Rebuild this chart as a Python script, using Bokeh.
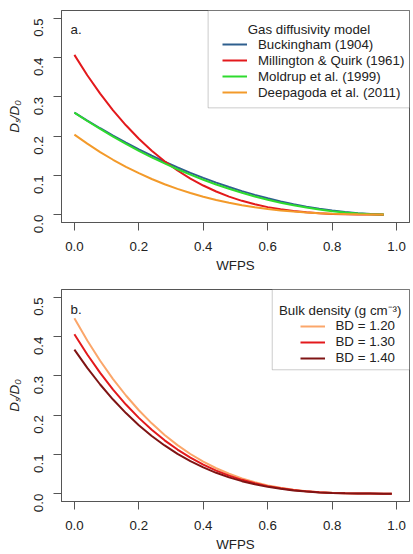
import math

from bokeh.embed import file_html
from bokeh.layouts import column
from bokeh.models import (BoxAnnotation, FixedTicker, Label, Legend,
                          LegendItem, Range1d)
from bokeh.plotting import figure
from bokeh.resources import INLINE

# ---------------------------------------------------------------- data
# Panel a: relative gas diffusivity for four models (porosity 0.51)
wfps_a = [0.00, 0.04, 0.08, 0.12, 0.16, 0.20, 0.24, 0.28, 0.32, 0.36,
          0.40, 0.44, 0.48, 0.52, 0.56, 0.60, 0.64, 0.68, 0.72, 0.76,
          0.80, 0.84, 0.88, 0.92, 0.96]
buckingham = [0.2600, 0.2396, 0.2201, 0.2013, 0.1835, 0.1664, 0.1502, 0.1348,
              0.1202, 0.1065, 0.0936, 0.0815, 0.0703, 0.0599, 0.0503, 0.0416,
              0.0337, 0.0266, 0.0204, 0.0150, 0.0104, 0.0067, 0.0037, 0.0017,
              0.0004]
millington_quirk = [0.4070, 0.3552, 0.3083, 0.2658, 0.2276, 0.1934, 0.1630,
                    0.1361, 0.1125, 0.0919, 0.0742, 0.0589, 0.0460, 0.0352,
                    0.0264, 0.0192, 0.0135, 0.0091, 0.0059, 0.0035, 0.0019,
                    0.0009, 0.0003, 0.0001, 0.0000]
moldrup = [0.2600, 0.2386, 0.2183, 0.1987, 0.1803, 0.1627, 0.1461, 0.1304,
           0.1157, 0.1018, 0.0889, 0.0769, 0.0659, 0.0557, 0.0463, 0.0380,
           0.0304, 0.0237, 0.0180, 0.0130, 0.0089, 0.0056, 0.0030, 0.0013,
           0.0003]
deepagoda = [0.2040, 0.1808, 0.1594, 0.1398, 0.1219, 0.1056, 0.0908, 0.0775,
             0.0656, 0.0550, 0.0456, 0.0374, 0.0302, 0.0240, 0.0188, 0.0144,
             0.0108, 0.0078, 0.0055, 0.0037, 0.0024, 0.0015, 0.0008, 0.0004,
             0.0002]
model_names = ["Buckingham (1904)", "Millington & Quirk (1961)",
               "Moldrup et al. (1999)", "Deepagoda et al. (2011)"]

# Panel b: Millington & Quirk at three bulk densities
wfps_b = [0.00, 0.04, 0.08, 0.12, 0.16, 0.20, 0.24, 0.28, 0.32, 0.36,
          0.40, 0.44, 0.48, 0.52, 0.56, 0.60, 0.64, 0.68, 0.72, 0.76,
          0.80, 0.84, 0.88, 0.92, 0.96, 0.985]
bd_120 = [0.4470, 0.3901, 0.3386, 0.2919, 0.2500, 0.2125, 0.1791, 0.1495,
          0.1236, 0.1010, 0.0814, 0.0647, 0.0506, 0.0387, 0.0290, 0.0211,
          0.0148, 0.0100, 0.0064, 0.0038, 0.0021, 0.0010, 0.0004, 0.0001,
          0.0000, 0.0000]
bd_130 = [0.4060, 0.3544, 0.3075, 0.2651, 0.2270, 0.1930, 0.1626, 0.1358,
          0.1123, 0.0917, 0.0740, 0.0587, 0.0459, 0.0352, 0.0263, 0.0192,
          0.0135, 0.0091, 0.0058, 0.0035, 0.0019, 0.0009, 0.0003, 0.0001,
          0.0000, 0.0000]
bd_140 = [0.3670, 0.3203, 0.2780, 0.2397, 0.2052, 0.1744, 0.1470, 0.1228,
          0.1015, 0.0829, 0.0669, 0.0531, 0.0415, 0.0318, 0.0238, 0.0173,
          0.0122, 0.0082, 0.0053, 0.0032, 0.0017, 0.0008, 0.0003, 0.0001,
          0.0000, 0.0000]
bd_names = ["BD = 1.20", "BD = 1.30", "BD = 1.40"]

x_ticks = [0.0, 0.2, 0.4, 0.6, 0.8, 1.0]
x_tick_labels = ["0.0", "0.2", "0.4", "0.6", "0.8", "1.0"]
y_ticks = [0.0, 0.1, 0.2, 0.3, 0.4, 0.5]
y_tick_labels = ["0.0", "0.1", "0.2", "0.3", "0.4", "0.5"]

# ---------------------------------------------------------------- style
FONT = "Liberation Sans"
FS = "13.3px"
FRAME = "#555555"
TEXT = "#222222"
colors_a = ["#2E5F8E", "#E3191C", "#2EDB2E", "#F39A2A"]
colors_b = ["#FBA66A", "#E3191C", "#7F1414"]


def make_panel(border_top, border_bottom):
    p = figure(width=413, height=277, output_backend="svg",
               toolbar_location=None,
               x_range=Range1d(-0.04, 1.04), y_range=Range1d(-0.02, 0.52),
               min_border_left=61, min_border_right=4,
               min_border_top=border_top, min_border_bottom=border_bottom,
               x_axis_label="WFPS", y_axis_label="D\u209b/D\u2080")
    p.background_fill_color = "white"
    p.border_fill_color = "white"
    p.outline_line_color = FRAME
    p.outline_line_width = 1
    p.grid.visible = False

    p.xaxis.ticker = FixedTicker(ticks=x_ticks)
    p.xaxis.major_label_overrides = dict(zip(x_ticks, x_tick_labels))
    p.yaxis.ticker = FixedTicker(ticks=y_ticks)
    p.yaxis.major_label_overrides = dict(zip(y_ticks, y_tick_labels))
    p.yaxis.major_label_orientation = math.pi / 2

    for ax in (p.xaxis[0], p.yaxis[0]):
        ax.axis_line_color = FRAME
        ax.major_tick_line_color = FRAME
        ax.major_tick_out = 8
        ax.major_tick_in = 0
        ax.minor_tick_line_color = None
        ax.major_label_text_font = FONT
        ax.major_label_text_font_size = FS
        ax.major_label_text_color = TEXT
        ax.axis_label_text_font = FONT
        ax.axis_label_text_font_size = FS
        ax.axis_label_text_color = TEXT
    p.xaxis.major_label_standoff = 11
    p.xaxis.axis_label_standoff = 4
    p.yaxis.major_label_standoff = 15
    p.yaxis.axis_label_standoff = 5
    p.yaxis.axis_label_text_font_style = "italic"
    p.xaxis.axis_label_text_font_style = "normal"
    return p


def add_key(p, renderers, names, title, box_left, box_bottom, title_x,
            title_y, loc):
    # framed key anchored in the top-right corner of the plot frame
    p.add_layout(BoxAnnotation(left=box_left, right=1.04, bottom=box_bottom,
                               top=0.52, fill_color="white", fill_alpha=1.0,
                               line_color=FRAME, line_width=1))
    p.add_layout(Label(x=title_x, y=title_y, text=title, text_align="center",
                       text_baseline="alphabetic", text_font=FONT,
                       text_font_size=FS, text_color=TEXT))
    legend = Legend(items=[LegendItem(label=n, renderers=[r])
                           for n, r in zip(names, renderers)],
                    location=loc, padding=0, spacing=0, margin=0,
                    label_height=16, glyph_height=16, glyph_width=25,
                    label_standoff=11, border_line_alpha=0,
                    background_fill_alpha=0, label_text_font=FONT,
                    label_text_font_size=FS, label_text_color=TEXT)
    p.add_layout(legend)


# ---------------------------------------------------------------- panel a
pa = make_panel(10, 55)
series_a = [buckingham, millington_quirk, moldrup, deepagoda]
rend_a = [pa.line(wfps_a, ys, line_color=c, line_width=2)
          for ys, c in zip(series_a, colors_a)]
pa.add_layout(Label(x=-0.012, y=0.472, text="a.", text_font=FONT,
                    text_font_size=FS, text_color=TEXT,
                    text_baseline="alphabetic"))
add_key(pa, rend_a, model_names, "Gas diffusivity model",
        0.415, 0.272, 0.728, 0.4724, (161, 121.7))

# ---------------------------------------------------------------- panel b
pb = make_panel(12, 53)
series_b = [bd_120, bd_130, bd_140]
rend_b = [pb.line(wfps_b, ys, line_color=c, line_width=2)
          for ys, c in zip(series_b, colors_b)]
pb.add_layout(Label(x=-0.012, y=0.468, text="b.", text_font=FONT,
                    text_font_size=FS, text_color=TEXT,
                    text_baseline="alphabetic"))
add_key(pb, rend_b, bd_names, "Bulk density (g cm\u207b\u00b3)",
        0.614, 0.3155, 0.825, 0.466, (238.5, 135.3))

layout = column(pa, pb, spacing=0)
open("out.html", "w").write(file_html(layout, INLINE))
